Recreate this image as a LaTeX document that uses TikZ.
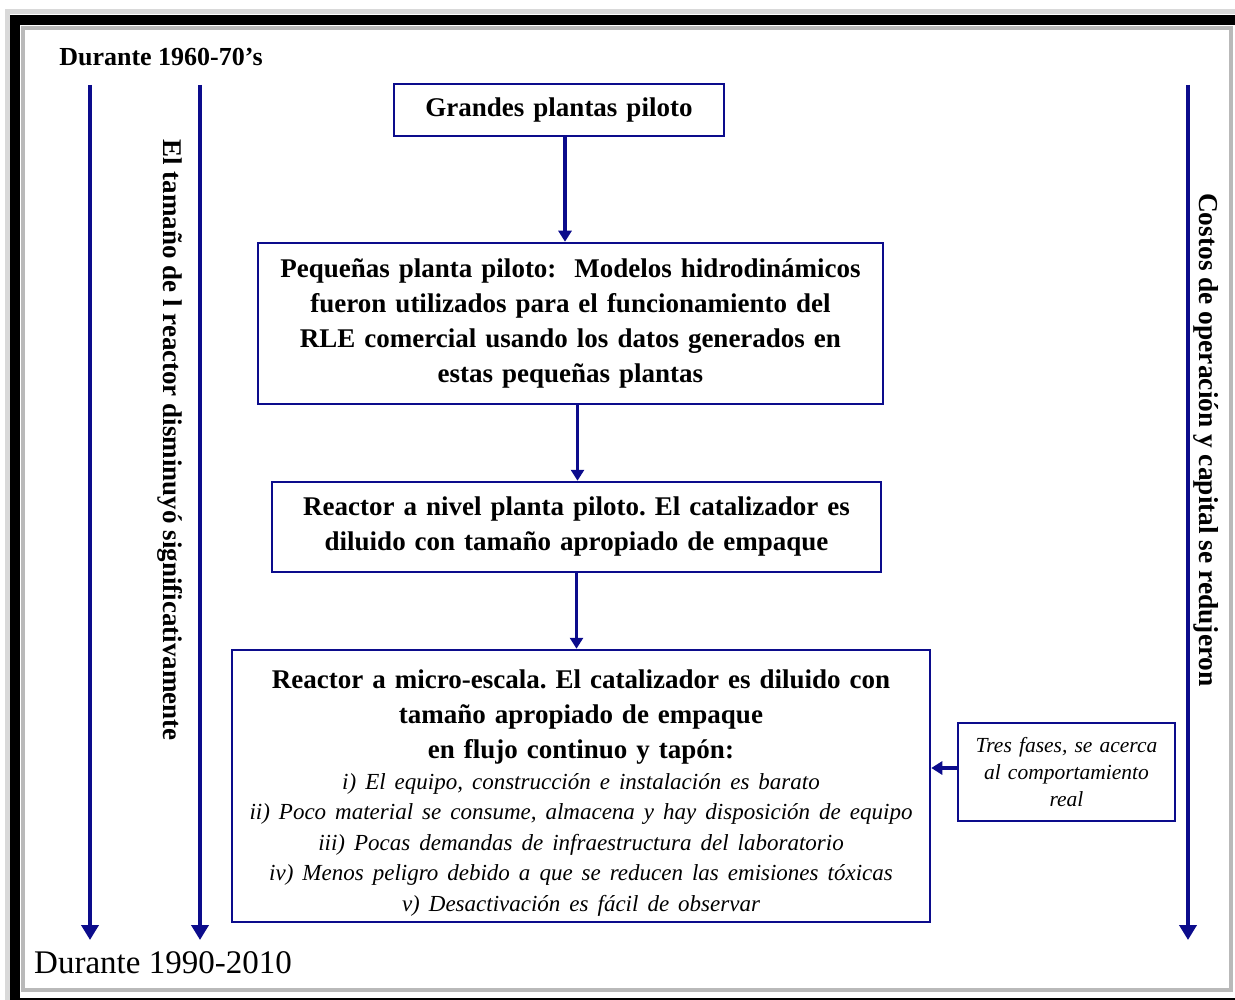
\documentclass[tikz,border=0pt]{standalone}
\usepackage{fontspec}
\setmainfont{Liberation Serif}
\usetikzlibrary{arrows.meta, positioning}
\definecolor{navyline}{RGB}{12,12,140}
\frenchspacing

\begin{document}
\begin{tikzpicture}[x=1pt, y=-1pt, >={Triangle[width=13pt, length=11pt]},
    box/.style={draw=navyline, line width=2.5pt, fill=white, align=center, inner sep=0pt, font=\fontsize{27}{35}\selectfont\bfseries},
    note/.style={box, font=\fontsize{21.5}{27}\selectfont\itshape},
    timeline/.style={draw=navyline, line width=4pt, -{Triangle[width=17pt, length=15pt]}},
    flow/.style={draw=navyline, line width=3.5pt, ->}]
    \useasboundingbox (0,0) rectangle (1235,1000);

    % frame
    \draw[gray!30, line width=5pt] (7.5,12) rectangle (1250,1010);
    \draw[black, line width=10pt] (15,20) rectangle (1245,1003);
    \draw[gray!55, line width=4pt] (23,28) rectangle (1231,990);

    % time labels
    \node[font=\fontsize{26}{30}\selectfont\bfseries] (START) at (161,57) {Durante 1960-70's};
    \node[font=\fontsize{33}{36}\selectfont] (END) at (163,963) {Durante 1990-2010};
    \coordinate (L1top) at (90,85);   \coordinate (L1end) at (90,940);
    \coordinate (L2top) at (200,85);  \coordinate (L2end) at (200,940);
    \coordinate (R1top) at (1188,85); \coordinate (R1end) at (1188,940);
    \path (L1top) edge [timeline] (L1end)
          (L2top) edge [timeline] (L2end)
          (R1top) edge [timeline] (R1end);
    \node[rotate=-90, font=\fontsize{27}{30}\selectfont\bfseries] (SIZE) at (170,440) {El tamaño de l reactor disminuyó significativamente};
    \node[rotate=-90, font=\fontsize{27.4}{30}\selectfont\bfseries] (COST) at (1206,440) {Costos de operación y capital se redujeron};

    % stages
    \node[box, minimum width=330pt, minimum height=52pt, text width=320pt] (BIG) at (559,110) {Grandes plantas piloto};
    \node[box, minimum width=625pt, minimum height=161pt, text width=615pt] (SMALL) at (570.5,323.5)
        {Pequeñas planta piloto:\ \ Modelos hidrodinámicos\\ fueron utilizados para el funcionamiento del\\ RLE comercial usando los datos generados en\\ estas pequeñas plantas};
    \node[box, minimum width=609pt, minimum height=90pt, text width=599pt] (PILOT) at (576.5,527)
        {Reactor a nivel planta piloto. El catalizador es\\ diluido con tamaño apropiado de empaque};
    \node[box, minimum width=698pt, minimum height=272pt, text width=688pt] (MICRO) at (581,786)
        {\rule{0pt}{33pt}Reactor a micro-escala. El catalizador es diluido con\\ tamaño apropiado de empaque\\ en flujo continuo y tapón:\par
         {\fontsize{23}{30.5}\selectfont\mdseries\itshape
         i) El equipo, construcción e instalación es barato\\
         ii) Poco material se consume, almacena y hay disposición de equipo\\
         iii) Pocas demandas de infraestructura del laboratorio\\
         iv) Menos peligro debido a que se reducen las emisiones tóxicas\\
         v) Desactivación es fácil de observar\par}};
    \node[note, minimum width=217pt, minimum height=98pt, text width=209pt] (PHASE) at (1066.5,772)
        {Tres fases, se acerca\\ al comportamiento\\ real};

    \path ([xshift=6pt]BIG.south) edge [flow] ([xshift=6pt]BIG.south |- SMALL.north)
          ([xshift=7pt]SMALL.south) edge [flow] ([xshift=7pt]SMALL.south |- PILOT.north)
          (PILOT.south) edge [flow] (PILOT.south |- MICRO.north)
          ([yshift=4pt]PHASE.west) edge [flow] ([yshift=4pt]PHASE.west -| MICRO.east);
\end{tikzpicture}
\end{document}
